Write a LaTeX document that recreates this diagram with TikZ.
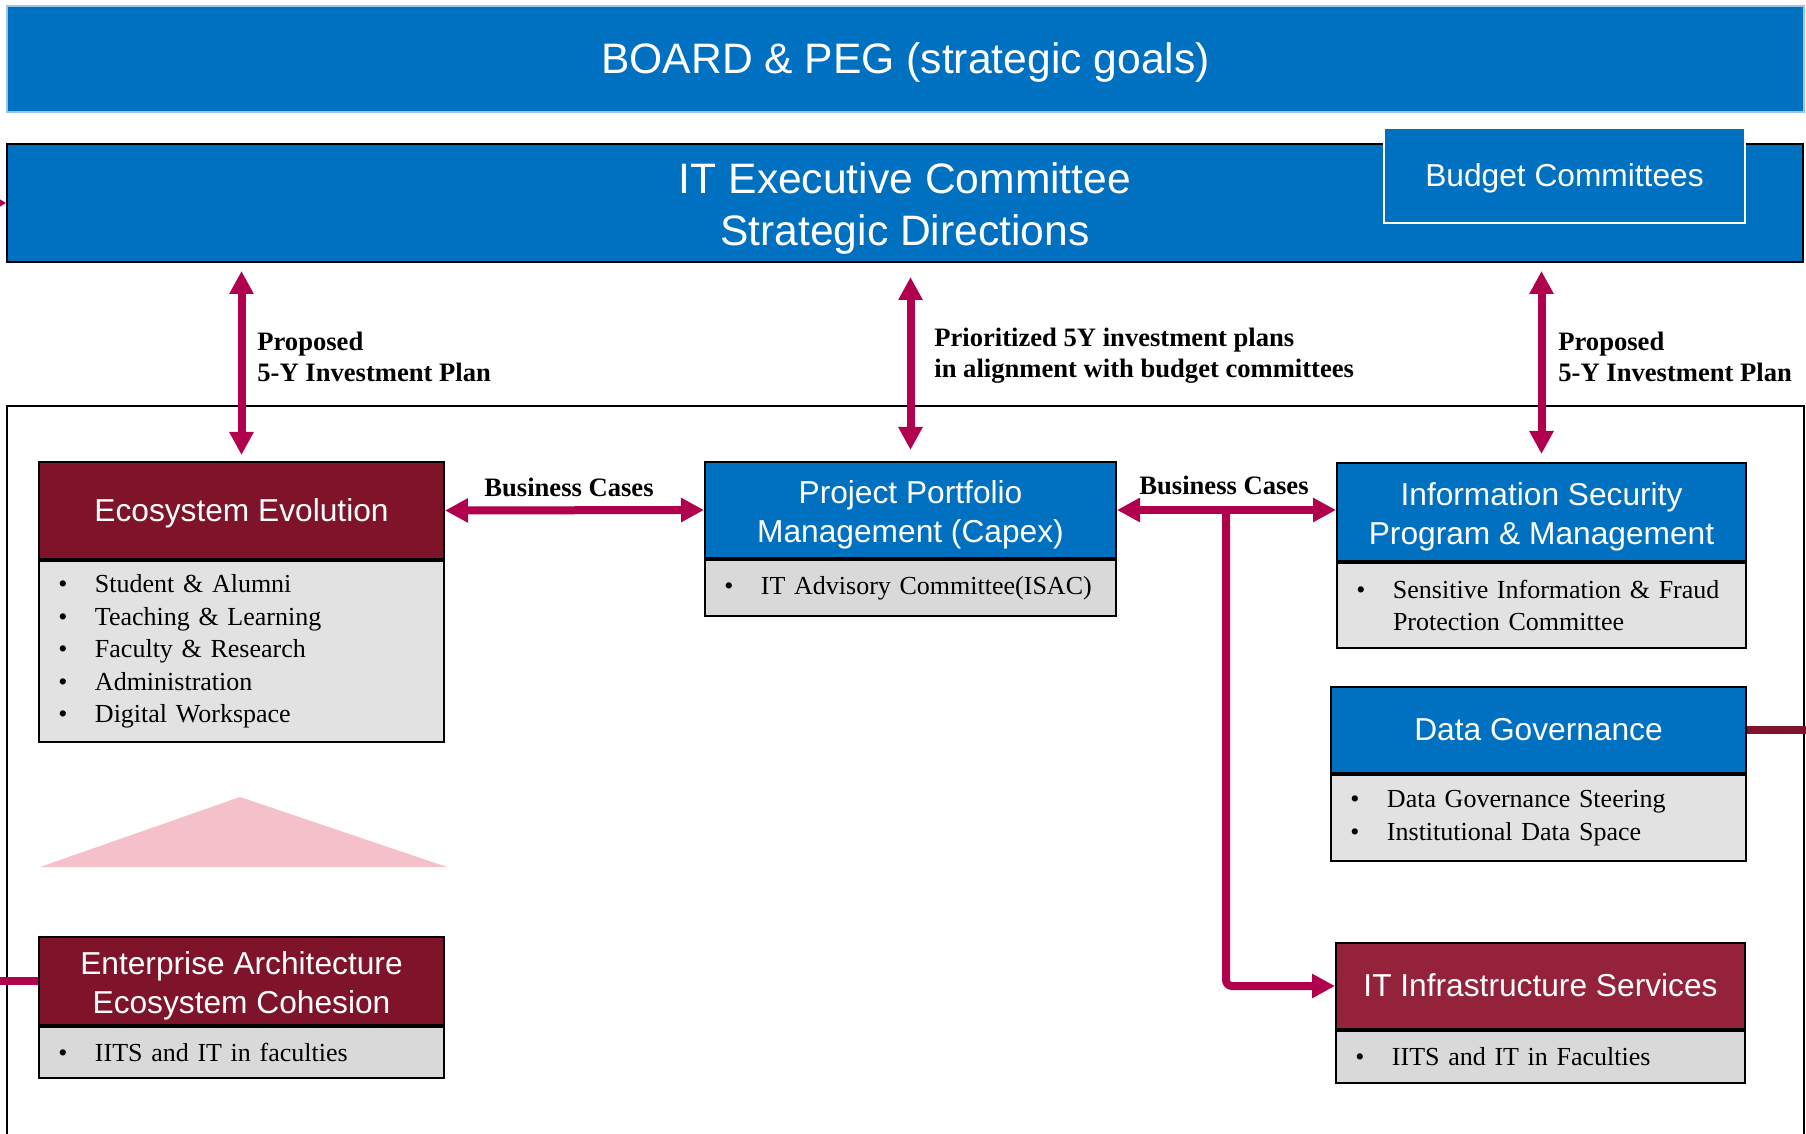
\documentclass[tikz,border=0pt]{standalone}
\usepackage{fontspec}
\setmainfont{Liberation Serif}
\setsansfont{Liberation Sans}
\usetikzlibrary{arrows.meta,positioning}

\definecolor{ublue}{HTML}{0070C0}
\definecolor{uline}{HTML}{9DC3E6}
\definecolor{maroon}{HTML}{7F1329}
\definecolor{maroonb}{HTML}{94223A}
\definecolor{linkc}{HTML}{B0004E}
\definecolor{listg}{HTML}{E2E2E2}
\definecolor{listd}{HTML}{D9D9D9}
\definecolor{roofc}{HTML}{F4C0CA}

\newcommand{\bul}[1]{\mbox{\makebox[18.3pt][l]{\textbullet}#1}}
\newcommand{\cont}[1]{\mbox{\hspace*{18.3pt}#1}}
\newcommand{\twol}[2]{\rule{0pt}{1em}#1\\#2}

\tikzset{
  hdr/.style={draw=black, line width=1pt, text=white, align=center, inner sep=0pt,
    text height=14.3pt, text depth=3.4pt,
    font=\sffamily\fontsize{15.85}{19.5}\selectfont},
  bighdr/.style={text height=19.3pt, text depth=4.5pt,
    font=\sffamily\fontsize{21.3}{26}\selectfont},
  twoline/.style={text height=, text depth=},
  listbox/.style={draw=black, line width=1pt, align=left, inner ysep=0pt, inner xsep=9.7pt,
    font=\fontsize{13}{16.2}\selectfont},
  lbl/.style={align=left, inner sep=0pt, font=\bfseries\fontsize{13.3}{15.5}\selectfont},
  link/.style={linkc, line width=4pt,
    {Triangle[length=11.5pt,width=11.5pt]}-{Triangle[length=11.5pt,width=11.5pt]}},
}

\begin{document}
\begin{tikzpicture}[x=0.5pt,y=-0.5pt]
\useasboundingbox (0,0) rectangle (1806,1134);
%outer frame
\draw[line width=1pt] (7,1150) -- (7,406) -- (1804,406) -- (1804,1150);
%board
\node[hdr, bighdr, fill=ublue, draw=uline, minimum width=898.5pt, minimum height=53pt] (board)
  at (905.5,59) {BOARD \& PEG (strategic goals)};
%executive committee
\node[hdr, bighdr, twoline, fill=ublue, minimum width=898pt, minimum height=59pt] (itexec)
  at (905,203) {\twol{IT Executive Committee}{Strategic Directions}};
\node[hdr, fill=ublue, draw=white, minimum width=180.5pt, minimum height=47.5pt] (budget) at (1564.5,175.5) {Budget Committees};
%left column
\node[hdr, fill=maroon, minimum width=202.5pt, minimum height=48.5pt] (ecoh) at (241.5,510.5) {Ecosystem Evolution};
\node[listbox, fill=listg, text width=183.1pt, minimum height=90.5pt, below=0pt of ecoh] (ecol)
  {\bul{Student \& Alumni}\\\bul{Teaching \& Learning}\\\bul{Faculty \& Research}\\\bul{Administration}\\\bul{Digital Workspace}};
\fill[roofc] (40,867) -- (240,797) -- (447,867) -- cycle;
\node[hdr, twoline, fill=maroon, minimum width=202.5pt, minimum height=44pt] (eah) at (241.5,981)
  {\twol{Enterprise Architecture}{Ecosystem Cohesion}};
\node[listbox, fill=listd, text width=183.1pt, minimum height=25.5pt, below=0pt of eah] (eal) {\bul{IITS and IT in faculties}};
%middle column
\node[hdr, twoline, fill=ublue, minimum width=205.5pt, minimum height=48pt] (ppmh) at (910.5,510)
  {\twol{Project Portfolio}{Management (Capex)}};
\node[listbox, fill=listd, text width=186.1pt, minimum height=28pt, below=0pt of ppmh] (ppml) {\bul{IT Advisory Committee(ISAC)}};
%right column
\node[hdr, twoline, fill=ublue, minimum width=204.5pt, minimum height=49pt] (isph) at (1541.5,512)
  {\twol{Information Security}{Program \& Management}};
\node[listbox, fill=listg, text width=185.1pt, minimum height=42.5pt, below=0pt of isph] (ispl)
  {\bul{Sensitive Information \& Fraud}\\\cont{Protection Committee}};
\node[hdr, fill=ublue, minimum width=207.5pt, minimum height=43pt] (dgh) at (1538.5,730) {Data Governance};
\node[listbox, fill=listg, text width=188.1pt, minimum height=43pt, below=0pt of dgh] (dgl)
  {\bul{Data Governance Steering}\\\bul{Institutional Data Space}};
\node[hdr, fill=maroonb, minimum width=204.5pt, minimum height=43pt] (iish) at (1540.5,986) {IT Infrastructure Services};
\node[listbox, fill=listd, text width=185.1pt, minimum height=26pt, below=0pt of iish] (iisl) {\bul{IITS and IT in Faculties}};
%investment plan arrows
\foreach \b/\s/\e in {ecoh/4pt/3pt,ppmh/7pt/5.5pt,isph/4pt/4pt}
  \draw[link, shorten <=\s, shorten >=\e] (\b.north |- itexec.south) -- (\b.north);
\node[lbl, anchor=west] (propl) at (257,357) {Proposed\\5-Y Investment Plan};
\node[lbl, anchor=west] (prio) at (934,356) {Prioritized 5Y investment plans\\in alignment with budget committees};
\node[lbl, anchor=west] (propr) at (1558,357) {Proposed\\5-Y Investment Plan};
%business cases
\draw[link] (ecoh.east) -- (ppmh.west);
\draw[link] (ppmh.east) -- (ppmh.east -| isph.west);
\coordinate (fork) at (1226,510);
\draw[linkc, line width=4pt, rounded corners=3pt, -{Triangle[length=11.5pt,width=11.5pt]}] (fork) |- (iish.west);
\node[lbl] (bcl) at (569,487) {Business Cases};
\node[lbl] (bcr) at (1224,485) {Business Cases};
%links leaving the page
\draw[linkc, line width=1pt, -{Triangle[length=3.5pt,width=4pt]}] (0,203) -- (itexec.west);
\draw[linkc, line width=4pt] (0,981) -- (eah.west);
\draw[maroon, line width=4pt] (dgh.east) -- (1806,730);
\end{tikzpicture}
\end{document}
